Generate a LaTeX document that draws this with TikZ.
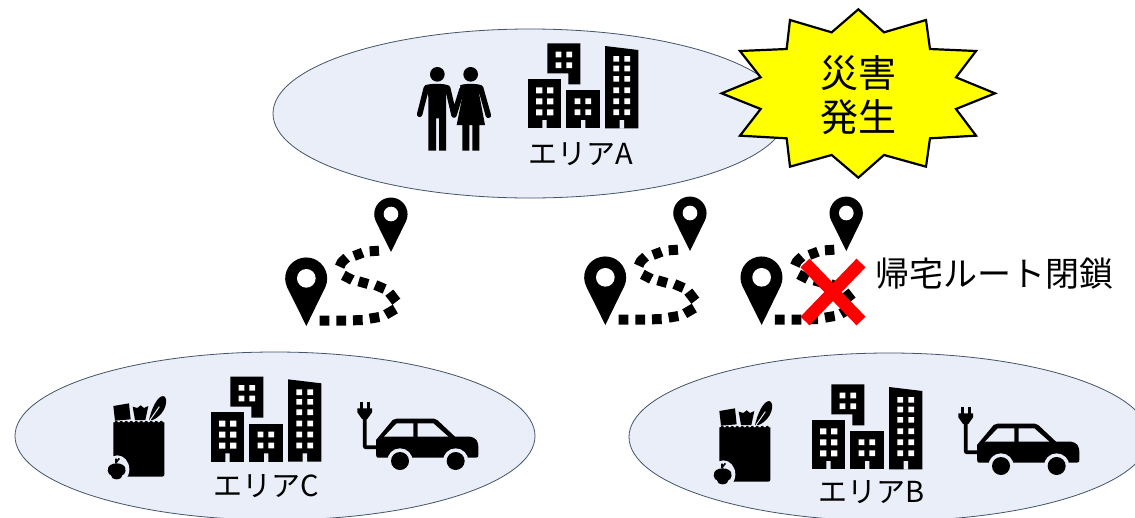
\documentclass[tikz,border=0pt]{standalone}
\usepackage{fontspec}
\setmainfont{Noto Sans CJK JP}
\usetikzlibrary{shapes.geometric}
\definecolor{areafill}{HTML}{E9EEF8}
\definecolor{arealine}{HTML}{44546A}
\definecolor{burstfill}{RGB}{255,255,0}
\definecolor{crossred}{RGB}{255,0,0}
\tikzset{
  x=1pt,y=-1pt,
  areabox/.style={ellipse,draw=arealine,fill=areafill,line width=0.8pt,inner sep=0pt,minimum width=520pt,minimum height=168pt},
  arealabel/.style={inner sep=0pt,font=\fontsize{29}{34}\selectfont},
  building/.pic={\begin{scope}[scale=0.33333]
    \fill[black] (383,147)--(483,147)--(483,295)--(383,295)--cycle;
    \fill[black] (442,40)--(541,40)--(541,163)--(505,163)--(505,130)--(442,130)--cycle;
    \fill[black] (499,181)--(599,181)--(599,295)--(499,295)--cycle;
    \fill[black] (615,48)--(715,60)--(715,295)--(615,295)--cycle;
    \fill[areafill] (427,270) rectangle (440,296) (543,270) rectangle (556,296) (659,270) rectangle (672,296);
    \fill[white] \foreach \yy in {172,205,238}{(408,\yy) rectangle ++(19,18) (441,\yy) rectangle ++(19,18)};
    \fill[white] \foreach \yy in {65,97}{(467,\yy) rectangle ++(17,17) (499,\yy) rectangle ++(17,17)};
    \fill[white] \foreach \yy in {205,238}{(524,\yy) rectangle ++(17,17) (556,\yy) rectangle ++(17,17)};
    \fill[white] \foreach \yy in {78,107,138,172,205,238}{(640,\yy) rectangle ++(17,17) (673,\yy) rectangle ++(17,17)};
  \end{scope}},
  route/.pic={\begin{scope}[scale=0.33333]
    \fill[black] (91,405)--(33,288) arc[start angle=156,end angle=384,radius=63]--cycle;
    \fill[white] (91,262) circle[radius=28];
    \fill[black] (345,183)--(299,90) arc[start angle=156,end angle=384,radius=50]--cycle;
    \fill[white] (345,69) circle[radius=22];
    \draw[black,line width=10pt]
      (131,389)--(160,389) (181,389)--(210,389) (231,388)--(260,387)
      (281,383)--(310,378) (329,371)--(358,354)
      (361,332)--(340,305) (326,294)--(298,282) (276,279)--(248,271) (229,267)--(202,253)
      (191,227) .. controls (195,215) .. (212,200) (234,195)--(260,185) (281,181)--(309,179);
  \end{scope}},
  grocery/.pic={\begin{scope}[scale=0.33333]
    \fill[black] (40,48)--(87,40)--(92,88)--(45,92)--cycle;
    \fill[black] (98,50)--(112,54)--(122,46)--(132,54)--(145,48)--(136,90)--(105,90)--cycle;
    \fill[black] (147,90) .. controls (155,55) and (172,18) .. (190,18) .. controls (207,22) and (200,72) .. (158,90) --cycle;
    \draw[areafill,line width=1pt] (150,90)--(178,50);
    \fill[black] plot[domain=40:193,samples=80] (\x,{95-2.5*sin(\x*24)}) -- (193,252) .. controls (193,258) .. (187,260) -- (46,260) -- (40,250) --cycle;
    \fill[areafill] (52,238) ellipse[x radius=36,y radius=42];
    \fill[black] (38,242) circle[radius=15] (62,242) circle[radius=15] (50,236) ellipse[x radius=26,y radius=16] (50,254) ellipse[x radius=18,y radius=14];
    \draw[black,line width=1.6pt] (48,220)--(48,206) (48,218)--(58,205);
  \end{scope}},
  evcar/.pic={\begin{scope}[scale=0.33333]
    \draw[black,line width=3.8pt] (44,65)--(44,145) .. controls (44,157) .. (56,157)--(85,157);
    \draw[black,line width=3pt] (33,20)--(33,42) (55,20)--(55,42);
    \fill[black] (22,40)--(66,40)--(66,52)--(52,72)--(36,72)--(22,52)--cycle;
    \fill[black] (78,135)--(128,75) .. controls (132,71) .. (140,71)--(252,71) .. controls (258,71) .. (263,76)--(315,125)--(360,125) .. controls (378,127) and (385,140) .. (385,155)--(385,178) .. controls (385,186) .. (378,188)--(90,188) .. controls (80,188) .. (78,178)--cycle;
    \fill[areafill] (102,125)--(140,85)--(190,85)--(190,125)--cycle (203,85)--(250,85)--(295,125)--(203,125)--cycle;
    \fill[areafill] (150,198) circle[radius=38] (317,198) circle[radius=38];
    \fill[areafill] (105,190) rectangle (365,230);
    \fill[black] (150,198) circle[radius=27] (317,198) circle[radius=27];
  \end{scope}}
}
\begin{document}
\begin{tikzpicture}
\useasboundingbox (0,0) rectangle (1135,517);
\clip (0,0) rectangle (1135,517);
\fill[white] (0,0) rectangle (1135,517);

\node[areabox,minimum width=514pt,minimum height=169pt] (areaA) at (530,113.5) {};
\node[areabox] (areaC) at (275,436) {};
\node[areabox] (areaB) at (889,437) {};

\begin{scope}[shift={(410,60)},scale=0.33333]
  \fill[black] (82,43) circle[radius=22] (182,43) circle[radius=22];
  \fill[black] (45,76) .. controls (60,70) and (100,70) .. (115,76) -- (108,110) -- (108,272) -- (87,272) -- (87,175) -- (78,175) -- (78,272) -- (55,272) -- (55,110) -- cycle;
  \draw[black,line width=5.5pt,line cap=round,line join=round] (49,84)--(29,163) (113,84)--(132,165)--(156,88);
  \fill[black] (150,76) .. controls (165,70) and (200,70) .. (215,76) -- (208,105) -- (225,195) -- (208,195) -- (208,272) -- (187,272) -- (187,195) -- (178,195) -- (178,272) -- (157,272) -- (157,195) -- (140,195) -- (158,105) -- cycle;
  \draw[black,line width=5.5pt,line cap=round,line join=round] (212,84)--(235,166);
\end{scope}

\pic at (400,30) {building};
\pic at (83,363.33) {building};
\pic at (684,371) {building};

\pic at (100,390) {grocery};
\pic at (706,395) {grocery};
\pic at (350,395) {evcar};
\pic at (951,400) {evcar};

\node[arealabel] (labelA) at (581,154) {エリアA};
\node[arealabel] (labelC) at (266,486) {エリアC};
\node[arealabel] (labelB) at (872,492) {エリアB};

\pic at (276,191) {route};
\pic at (575,190) {route};
\pic at (731.3,190) {route};

\coordinate (xa) at (805,263);
\coordinate (xb) at (861,321);
\coordinate (xc) at (861,263);
\coordinate (xd) at (805,321);
\draw[crossred,line width=12.5pt] (xa)--(xb) (xc)--(xd);
\node[inner sep=0pt,font=\fontsize{34}{38}\selectfont] (closed) at (994.5,273.5) {帰宅ルート閉鎖};

\begin{scope}[shift={(710,0)},scale=0.33333]
\draw[black,fill=burstfill,line width=2.2pt,line join=miter]
  (445,28)--(522,97)--(648,60)--(660,147)--(798,153)--(738,232)--(855,280)--(738,327)--(798,407)--(660,415)--(648,500)--(522,465)--(445,533)--(365,465)--(240,500)--(230,415)--(90,407)--(152,327)--(35,280)--(152,232)--(90,153)--(230,147)--(240,60)--(365,97)--cycle;
\end{scope}
\node[inner sep=0pt,font=\fontsize{38}{42}\selectfont] (burst1) at (858,73) {災害};
\node[inner sep=0pt,font=\fontsize{38}{42}\selectfont] (burst2) at (858,117) {発生};
\end{tikzpicture}
\end{document}
